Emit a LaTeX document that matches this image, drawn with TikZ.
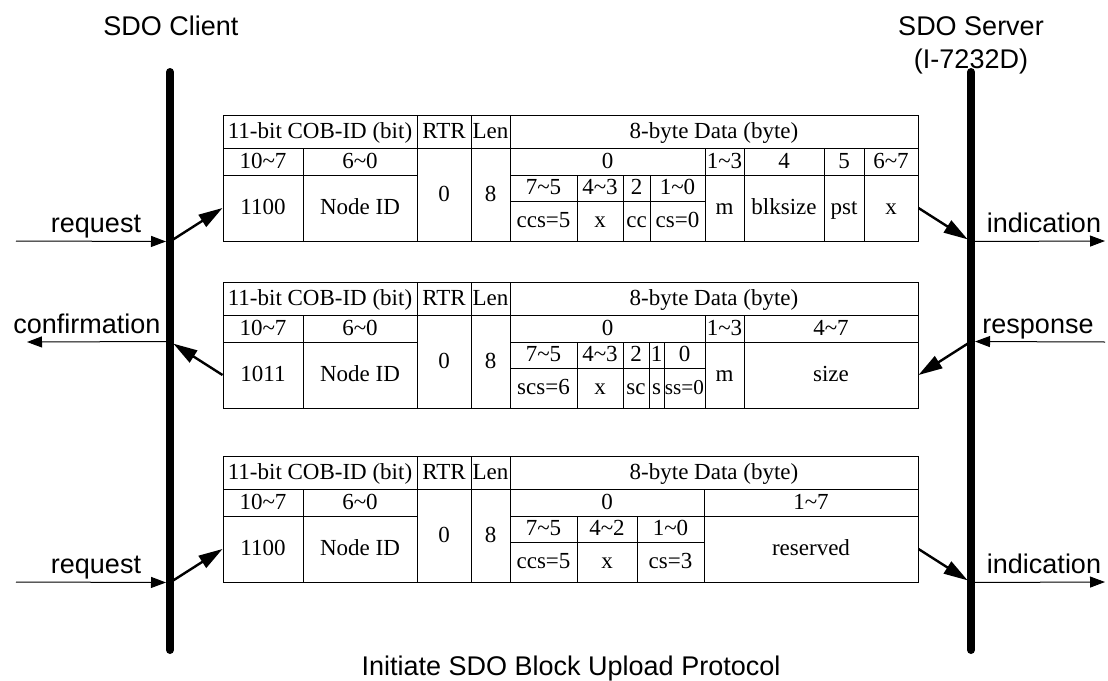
\documentclass[tikz,border=0pt]{standalone}
\usepackage{fontspec}
\setmainfont{Liberation Serif}
\newfontfamily\arial{Liberation Sans}
\usetikzlibrary{arrows.meta}
\tikzset{
  cell/.style={draw,line width=0.5pt,inner sep=0pt,text height=8.5pt,text depth=2pt,font=\fontsize{11.5}{13}\selectfont},
  lbl/.style={font=\arial\fontsize{13.5}{16}\selectfont,inner sep=0pt,anchor=base},
  bar/.style={line width=4pt,line cap=round},
  msg/.style={line width=1.2pt,-{Triangle[length=12pt,width=7pt]}},
  prim/.style={line width=0.5pt,-{Triangle[length=7.5pt,width=5.5pt]}}
}
\newcommand\rng{\textasciitilde}
% cell: name, x1, y1, x2, y2, text (pixel units, y downwards)
\newcommand\cell[6]{\node[cell,minimum width={((#4)-(#2))*0.5pt},minimum height={((#5)-(#3))*0.5pt}] (#1) at ({((#2)+(#4))/2},{((#3)+(#5))/2}) {#6};}
% common part of a CAN frame
\newcommand\cobhead[2]{%
  \cell{#1cob}{223}{0}{417}{33}{11-bit COB-ID (bit)} \cell{#1rtr}{417}{0}{471}{33}{RTR}
  \cell{#1len}{471}{0}{510}{33}{Len} \cell{#1data}{510}{0}{918}{33}{8-byte Data (byte)}
  \cell{#1hi}{223}{33}{303}{60}{10\rng 7} \cell{#1lo}{303}{33}{417}{60}{6\rng 0}
  \cell{#1fn}{223}{60}{303}{126}{#2} \cell{#1id}{303}{60}{417}{126}{Node ID}
  \cell{#1r}{417}{33}{471}{126}{0} \cell{#1l}{471}{33}{510}{126}{8}}
\begin{document}
\begin{tikzpicture}[x=0.5pt,y=-0.5pt]
\useasboundingbox (0,0) rectangle (1108,680);

% request frame
\begin{scope}[shift={(0,115)}]
\cobhead{a}{1100}
\cell{ab0}{510}{33}{705}{60}{0} \cell{ab13}{705}{33}{744}{60}{1\rng 3} \cell{ab4}{744}{33}{824}{60}{4}
\cell{ab5}{824}{33}{864}{60}{5} \cell{ab67}{864}{33}{918}{60}{6\rng 7}
\cell{ah1}{510}{60}{577}{86}{7\rng 5} \cell{ah2}{577}{60}{623}{86}{4\rng 3} \cell{ah3}{623}{60}{650}{86}{2} \cell{ah4}{650}{60}{705}{86}{1\rng 0}
\cell{av1}{510}{86}{577}{126}{ccs=5} \cell{av2}{577}{86}{623}{126}{x} \cell{av3}{623}{86}{650}{126}{cc} \cell{av4}{650}{86}{705}{126}{cs=0}
\cell{am}{705}{60}{744}{126}{m} \cell{ablk}{744}{60}{824}{126}{blksize} \cell{apst}{824}{60}{864}{126}{pst} \cell{ax}{864}{60}{918}{126}{x}
\end{scope}

% response frame
\begin{scope}[shift={(0,282)}]
\cobhead{b}{1011}
\cell{bb0}{510}{33}{705}{60}{0} \cell{bb13}{705}{33}{744}{60}{1\rng 3} \cell{bb47}{744}{33}{918}{60}{4\rng 7}
\cell{bh1}{510}{60}{577}{86}{7\rng 5} \cell{bh2}{577}{60}{623}{86}{4\rng 3} \cell{bh3}{623}{60}{649}{86}{2} \cell{bh4}{649}{60}{664}{86}{1} \cell{bh5}{664}{60}{705}{86}{0}
\cell{bv1}{510}{86}{577}{126}{scs=6} \cell{bv2}{577}{86}{623}{126}{x} \cell{bv3}{623}{86}{649}{126}{sc} \cell{bv4}{649}{86}{664}{126}{s}
\cell{bv5}{664}{86}{705}{126}{\fontsize{10.6}{13}\selectfont ss=0}
\cell{bm}{705}{60}{744}{126}{m} \cell{bsize}{744}{60}{918}{126}{size}
\end{scope}

% second request frame
\begin{scope}[shift={(0,456)}]
\cobhead{c}{1100}
\cell{cb0}{510}{33}{704}{60}{0} \cell{cb17}{704}{33}{918}{60}{1\rng 7}
\cell{ch1}{510}{60}{577}{86}{7\rng 5} \cell{ch2}{577}{60}{637}{86}{4\rng 2} \cell{ch3}{637}{60}{704}{86}{1\rng 0}
\cell{cv1}{510}{86}{577}{126}{ccs=5} \cell{cv2}{577}{86}{637}{126}{x} \cell{cv3}{637}{86}{704}{126}{cs=3}
\cell{cres}{704}{60}{918}{126}{reserved}
\end{scope}

\coordinate (cltop) at (170,72); \coordinate (clbot) at (170,650);
\coordinate (svtop) at (971,72); \coordinate (svbot) at (971,650);
\coordinate (cl1) at (cltop |- afn.south); \coordinate (sv1) at (svtop |- afn.south);
\coordinate (cl2) at (cltop |- bfn.north); \coordinate (sv2) at (svtop |- bfn.north);
\coordinate (cl3) at (cltop |- cfn.south); \coordinate (sv3) at (svtop |- cfn.south);
\coordinate (in1) at (16,241); \coordinate (out1) at (1105,241);
\coordinate (out2) at (27,342); \coordinate (in2) at (1105,342);
\coordinate (in3) at (16,582); \coordinate (out3) at (1105,582);

\draw[prim,shorten >=2pt] (in1) -- (cl1); \draw[msg] (cl1) -- (afn.west);
\draw[msg,shorten >=2pt] (ax.east) -- (sv1); \draw[prim] (sv1) -- (out1);
\draw[prim,shorten >=2pt] (in2) -- (sv2); \draw[msg] (sv2) -- (bsize.east);
\draw[msg,shorten >=2pt] (bfn.west) -- (cl2); \draw[prim] (cl2) -- (out2);
\draw[prim,shorten >=2pt] (in3) -- (cl3); \draw[msg] (cl3) -- (cfn.west);
\draw[msg,shorten >=2pt] (cres.east) -- (sv3); \draw[prim] (sv3) -- (out3);

\draw[bar] (cltop) -- (clbot); \draw[bar] (svtop) -- (svbot);

\node[lbl] (lreq1) at (96,232) {request}; \node[lbl] (lind1) at (1044,232) {indication};
\node[lbl] (lconf) at (87,333) {confirmation}; \node[lbl] (lresp) at (1038,333) {response};
\node[lbl] (lreq3) at (96,573) {request}; \node[lbl] (lind3) at (1044,573) {indication};
\node[lbl] (tclient) at (171,35) {SDO Client};
\node[lbl] (tserver) at (971,35) {SDO Server}; \node[lbl] (tmodel) at (971,68) {(I-7232D)};
\node[lbl] (tcap) at (571,675) {Initiate SDO Block Upload Protocol};
\end{tikzpicture}
\end{document}
